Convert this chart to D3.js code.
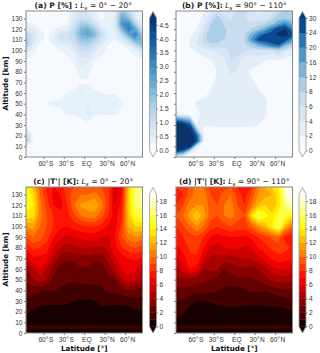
<!DOCTYPE html>
<html>
<head>
<meta charset="utf-8">
<script src="https://cdn.jsdelivr.net/npm/d3@7"></script>
<style>
  html, body { margin: 0; padding: 0; background: #fff; }
  svg { display: block; font-family: "DejaVu Sans", sans-serif; }
  .tick text { fill: #333; font-size: 6.6px; }
  .tick line { stroke: #777; }
  .domain { display: none; }
  .title { font-size: 7.6px; fill: #222; }
  .axis-label { font-size: 7.2px; font-weight: bold; fill: #111; }
</style>
</head>
<body>
<div id="chart"></div>
<script>
// Grid the fields were read on
const lats = [-85, -75, -65, -55, -45, -35, -25, -15, -5, 5, 15, 25, 35, 45, 55, 65, 75, 85];
const altsP = [0, 5, 10, 15, 20, 30, 40, 50, 60, 70, 80, 90, 100, 105, 110, 115, 120, 125, 130, 137];
const altsT = [0, 3, 4, 6.5, 7.5, 15, 20, 25, 30, 40, 50, 60, 70, 80, 90, 100, 110, 120, 130, 137];

// (a) P [%], Ls 0-20, rows bottom to top
const pA = [
  [.1, .1, .1, .1, .1, .1, .1, .1, .1, .1, .1, .1, .1, .1, .1, .1, .1, .1],
  [.1, .1, .1, .1, .1, .1, .1, .1, .1, .1, .1, .1, .1, .1, .1, .1, .1, .1],
  [.3, .1, .1, .1, .1, .1, .1, .1, .1, .1, .1, .1, .1, .1, .1, .1, .1, .1],
  [1.4, .2, .1, .1, .1, .1, .1, .1, .1, .1, .1, .1, .1, .1, .1, .1, .1, .1],
  [1.3, .2, .1, .1, .1, .1, .1, .1, .1, .1, .1, .1, .1, .1, .1, .1, .1, .1],
  [.15, .1, .1, .1, .1, .1, .1, .1, .15, .15, .1, .1, .1, .1, .1, .1, .1, .1],
  [.1, .1, .1, .15, .2, .22, .26, .27, .3, .55, .27, .26, .26, .26, .2, .15, .1, .1],
  [.1, .1, .15, .26, .27, .27, .27, .27, .35, .55, .3, .3, .4, .55, .27, .15, .1, .1],
  [.1, .1, .1, .15, .2, .22, .26, .27, .55, .35, .27, .26, .22, .22, .18, .1, .1, .1],
  [.1, .1, .1, .1, .1, .15, .18, .2, .22, .22, .2, .18, .15, .1, .1, .1, .1, .1],
  [.1, .1, .1, .1, .1, .1, .1, .15, .35, .3, .15, .1, .1, .1, .1, .1, .1, .1],
  [.1, .1, .1, .1, .1, .1, .15, .3, .65, .55, .25, .15, .1, .1, .1, .1, .1, .1],
  [.8, .3, .15, .1, .15, .25, .35, .55, .95, 1.05, .65, .35, .2, .15, .15, .2, .45, .8],
  [1.5, .5, .2, .15, .25, .45, .55, .85, 1.35, 1.45, .95, .55, .25, .2, .25, .55, 1.25, 2.1],
  [1.75, .75, .3, .2, .4, .85, .85, 1.15, 1.85, 1.95, 1.55, .9, .3, .25, .6, 1.35, 2.5, 2.1],
  [1.3, .8, .35, .2, .4, .95, .85, 1.25, 2.25, 2.55, 2.15, 1.1, .35, .35, 1.2, 2.5, 3.25, 1.7],
  [.7, .5, .25, .15, .2, .4, .4, 1.1, 2.15, 2.35, 1.7, .8, .35, .5, 2.1, 3.35, 2.5, .9],
  [.35, .25, .15, .1, .1, .15, .2, .9, 1.6, 1.6, .9, .4, .35, .55, 2.9, 3.1, 1.5, .4],
  [.15, .1, .1, .1, .1, .1, .15, .7, 1.1, 1, .5, .2, .35, .55, 2.5, 2.1, .7, .25],
  [.1, .1, .1, .1, .1, .1, .15, .5, .8, .7, .3, .15, .35, .45, 1.9, 1.3, .4, .15]
];

// (b) P [%], Ls 90-110
const pB = [
  [1, .5, .2, .2, .2, .2, .2, .2, .2, .2, .2, .2, .2, .2, .2, .2, .2, .2],
  [26, 20, 4, .3, .2, .2, .2, .2, .2, .2, .2, .2, .2, .2, .2, .2, .2, .2],
  [40, 38, 31, 4, .3, .2, .2, .2, .2, .2, .2, .2, .2, .2, .2, .2, .2, .2],
  [42, 40, 38, 26, 2, .4, .3, .3, .3, .3, .3, .3, .3, .2, .2, .2, .2, .2],
  [42, 40, 38, 24, 1.5, .5, .5, .5, .5, .5, .5, .5, .5, .3, .2, .2, .2, .2],
  [38, 33, 26, 2, 2.1, 2.2, 2.3, 2.4, 2.4, 2.4, 2.3, 2.2, 2, 1.5, .5, .3, .2, .2],
  [3, 1.5, 1, 1.6, 2.4, 2.5, 2.6, 2.6, 2.6, 2.6, 2.6, 2.5, 2.4, 2.2, 1, .5, .3, .2],
  [1, 1, 1.5, 2.2, 2.5, 2.6, 2.6, 2.7, 2.8, 2.8, 2.7, 2.6, 2.5, 2.3, 1.5, .8, .4, .2],
  [.5, .5, .8, 1.2, 1.6, 2.1, 2.4, 2.5, 2.6, 2.6, 2.5, 2.4, 2.2, 1.8, 1, .5, .3, .2],
  [.3, .3, .5, .8, 1.2, 1.8, 2.2, 2.4, 2.5, 2.5, 2.4, 2.2, 1.8, 1.2, .6, .3, .2, .1],
  [.3, .3, .5, .7, 1, 1.5, 2, 2.5, 4.5, 3.5, 2.2, 1.8, 1.4, 1, .6, .3, .2, .1],
  [.3, .4, .6, .9, 1.2, 1.8, 2.5, 3.6, 6, 5, 2.8, 2.6, 2.4, 2, 1.6, 1.2, 1, .8],
  [.5, .8, 1.5, 2.2, 3, 4, 4.4, 5, 6.5, 7, 6, 5.5, 6, 5.5, 5, 8, 4.5, 3],
  [.8, 1, 2.2, 4, 6, 7, 7, 7, 7, 7, 7.5, 9.5, 14, 18, 22, 24, 14, 9],
  [.8, 1, 2, 3.5, 7, 9.5, 10, 8, 7, 7, 8, 17, 26, 27, 28, 24, 26, 18],
  [.5, .8, 1.5, 3, 6, 10, 11, 8.5, 7, 7, 7.5, 14, 20, 25, 26, 32, 34, 26],
  [.3, .5, 1, 2, 4.5, 9, 11, 8.5, 7, 7, 7, 8, 11, 15, 22, 28, 30, 20],
  [.2, .4, .6, 1.5, 3.5, 7.5, 11, 7.5, 6.5, 7.5, 6.5, 6.5, 7, 8, 11, 16, 20, 14],
  [.2, .3, .5, 1, 2.5, 6, 9.5, 6.5, 5.5, 7.5, 6, 5, 5, 5, 7, 10, 11, 9],
  [.2, .3, .4, .8, 1.8, 3.5, 6, 5, 5, 6.5, 7, 4, 3, 4, 5, 7, 8, 8]
];

// (c) |T'| [K], Ls 0-20
const tC = [
  [.4, .4, .4, .4, .4, .4, .4, .4, .4, .4, .4, .4, .4, .4, .4, .4, .4, .4],
  [.4, .4, .4, .4, .4, .4, .4, .4, .4, .4, .4, .4, .4, .4, .4, .4, .4, .4],
  [1.4, 1.3, 1.4, 1.3, 1.3, 1.4, 1.3, 1.3, 1.4, 1.4, 1.3, 1.4, 1.3, 1.3, 1.4, 1.3, 1.4, 1.3],
  [1.4, 1.4, 1.3, 1.3, 1.4, 1.3, 1.3, 1.4, 1.4, 1.3, 1.4, 1.3, 1.3, 1.4, 1.3, 1.4, 1.3, 1.4],
  [.4, .4, .4, .4, .4, .4, .4, .4, .4, .4, .4, .4, .4, .4, .4, .4, .4, .4],
  [.8, .6, .4, .4, .4, .4, .4, .4, .4, .4, .4, .4, .4, .4, .4, .4, .5, .6],
  [1.1, .95, .7, .6, .6, .6, .6, .5, .5, .5, .5, .6, .6, .6, .6, .6, .8, .9],
  [1.4, 1.3, 1, .9, .9, .9, .9, .8, .7, .7, .8, .95, 1, .9, .9, 1, 1.2, 1.2],
  [1.7, 1.6, 1.4, 1.3, 1.3, 1.3, 1.2, 1, .9, .9, 1, 1.2, 1.3, 1.3, 1.4, 1.5, 1.6, 1.6],
  [2.4, 2.4, 2.1, 2, 2.1, 1.9, 1.8, 1.7, 1.6, 1.6, 1.8, 1.9, 2.1, 2.2, 2.6, 3, 2.9, 2.6],
  [3.3, 3.9, 4.6, 4, 2.6, 2.2, 2.1, 2.1, 2.3, 2.3, 2.2, 2.1, 2.5, 3, 4.8, 5.6, 5.2, 4],
  [3.8, 5, 6, 5, 3.5, 2.5, 2.3, 2.3, 2.9, 2.9, 2.4, 2.4, 3.5, 4.6, 6, 6.6, 6.2, 5],
  [5.7, 6.8, 6.7, 6.5, 4.8, 3.6, 3.2, 3.4, 3.5, 3.5, 3.3, 3.3, 4.3, 5.8, 6.5, 7, 7.2, 6.8],
  [7.3, 8.3, 8, 7.5, 6, 5, 4.5, 4.7, 5, 5.2, 5, 4.8, 5.5, 6.6, 8, 8.6, 9, 8.5],
  [9, 10, 9.5, 8.5, 7, 6.2, 5.7, 6, 6.2, 6.5, 6.4, 6, 5.9, 7, 9, 10.5, 11, 10.5],
  [11, 11.5, 10, 9, 8, 7.2, 7, 7.4, 7.7, 8, 8, 7.6, 6.8, 6.5, 8.5, 12, 13, 13],
  [13.5, 13.5, 10.5, 9, 8, 7.5, 7.7, 8.7, 10, 10.5, 10.5, 9.5, 8, 6.5, 8, 12.5, 15, 15.5],
  [15, 14, 10.5, 8.5, 7, 6.5, 8, 10, 11.2, 11.5, 12, 10.5, 8.5, 6, 7.5, 13, 16, 17],
  [15, 13.5, 10, 8, 6.8, 7, 8.5, 9.5, 10, 10, 10.5, 9.5, 8.5, 5.5, 7, 13, 16.5, 17.5],
  [14, 12.5, 9.5, 8, 7, 7.5, 8.5, 9, 9, 9, 9, 9, 8.5, 5.5, 7, 12.5, 16, 17]
];

// (d) |T'| [K], Ls 90-110
const tD = [
  [.4, .4, .4, .4, .4, .4, .4, .4, .4, .4, .4, .4, .4, .4, .4, .4, .4, .4],
  [.4, .4, .4, .4, .4, .4, .4, .4, .4, .4, .4, .4, .4, .4, .4, .4, .4, .4],
  [1.4, 1.3, 1.4, 1.3, 1.3, 1.4, 1.3, 1.3, 1.4, 1.4, 1.3, 1.4, 1.3, 1.3, 1.4, 1.3, 1.4, 1.3],
  [1.4, 1.4, 1.3, 1.3, 1.4, 1.3, 1.3, 1.4, 1.4, 1.3, 1.4, 1.3, 1.3, 1.4, 1.3, 1.4, 1.3, 1.4],
  [.4, .4, .4, .4, .4, .4, .4, .4, .4, .4, .4, .4, .4, .4, .4, .4, .4, .4],
  [1.05, .95, .4, .4, .4, .4, .4, .4, .4, .4, .4, .4, .4, .4, .4, .4, .5, .6],
  [1.2, 1.1, .7, .5, .5, .5, .6, .6, .6, .6, .6, .6, .6, .6, .7, .7, .8, .9],
  [1.6, 1.4, .9, .8, .8, .85, .95, 1, 1, 1, 1, .95, .95, 1, 1, 1.05, 1.2, 1.2],
  [2, 1.8, 1.4, .95, 1, 1.05, 1.2, 1.2, 1.2, 1.2, 1.2, 1.3, 1.3, 1.3, 1.3, 1.4, 1.6, 1.9],
  [2.7, 2.6, 2.5, 2.4, 2.4, 2.3, 2.1, 1.7, 1.6, 1.6, 1.9, 2.1, 2.1, 2.1, 2.3, 2.7, 2.8, 2.9],
  [3.7, 3.8, 3.8, 3.5, 3.2, 3, 2.7, 2.6, 2.6, 2.8, 2.8, 2.9, 3.1, 3.6, 4.2, 4.4, 4.4, 4.2],
  [4.8, 5.6, 7, 6.6, 4, 4.3, 4.3, 3, 3.4, 3.8, 3.8, 3.6, 4, 4.6, 5.6, 6, 6, 5.6],
  [5.8, 6.6, 7.8, 7.8, 6, 4.8, 4.7, 4.6, 4.6, 4.9, 5, 5, 5.7, 6.4, 7.2, 7.6, 7.4, 7],
  [6.7, 7.4, 8.2, 8.4, 7, 5.8, 5.5, 6, 6.2, 6.2, 5.8, 6, 7, 7.6, 8.2, 8.6, 8.4, 7.8],
  [7.5, 8, 8.5, 8.8, 8, 7, 6.6, 6.8, 7, 7, 6.8, 7.2, 8, 8.5, 9.2, 9.6, 7.5, 7],
  [8, 8.8, 10, 11, 10, 8.5, 8, 8.5, 9, 8.5, 8.5, 9.5, 11, 12, 14, 16.5, 12, 10],
  [9, 10, 11.5, 13, 11.5, 9.5, 9, 10, 10.5, 9.5, 9, 13, 16, 14.5, 13.5, 15, 15, 14],
  [8, 9, 10.5, 11, 11, 9.5, 9, 10, 10.5, 9, 8, 10, 12, 13, 12, 13.5, 16.5, 18],
  [7.5, 8, 9.5, 10.5, 10.5, 9, 8.5, 9.5, 10, 8.5, 7.5, 9, 11, 11.5, 12, 13.5, 18, 19],
  [8, 8, 9.5, 10.5, 10, 8.5, 8, 8.5, 9, 8, 7, 8, 10.5, 12, 13, 14, 18, 19]
];

// Contour levels and tick labels
const levelsPa = d3.range(0, 20).map(d => d * 0.25);
const levelsPb = [0, 2, 4, 6, 8, 12, 16, 20, 24, 30];
const levelsT = d3.range(0, 20);
const ticksPa = [0, 0.5, 1, 1.5, 2, 2.5, 3, 3.5, 4, 4.5];
const ticksPb = [0, 2, 4, 6, 8, 12, 16, 20, 24, 30];
const ticksT = [0, 2, 4, 6, 8, 10, 12, 14, 16, 18];
const altTicks = d3.range(0, 131, 10);
const latTicks = [-60, -30, 0, 30, 60];
const latLabels = ["60°\u200aS", "30°\u200aS", "EQ", "30°\u200aN", "60°\u200aN"];

// Colormaps
const blues = d3.piecewise(d3.interpolateRgb, ["#f7fbff", "#deebf7", "#c6dbef", "#9ecae1", "#6baed6", "#4292c6", "#2171b5", "#08519c", "#08306b"]);
const hot = d3.scaleLinear()
    .domain([0, 0.365, 0.746, 1])
    .range(["#0b0000", "#ff0000", "#ffff00", "#ffffff"]);

const svg = d3.select("#chart")
    .append("svg")
    .attr("width", 320)
    .attr("height", 353);

const defs = svg.append("defs");
defs.append("filter")
    .attr("id", "soft")
    .attr("x", "-5%").attr("y", "-5%").attr("width", "110%").attr("height", "110%")
    .append("feGaussianBlur")
    .attr("stdDeviation", 0.5);

const panels = [
  { id: "a", name: "P [%] : ", period: " = 0° − 20°", field: pA, alts: altsP, levels: levelsPa, cmap: blues, ticks: ticksPa, fmt: d3.format(".1f"), left: 26, top: 11, lowest: "#f6faff", under: "#f7fbff", over: "#08306b", showAlt: true, showLat: false },
  { id: "b", name: "P [%]: ", period: " = 90° − 110°", field: pB, alts: altsP, levels: levelsPb, cmap: blues, ticks: ticksPb, fmt: d3.format("d"), left: 176, top: 11, lowest: "#f6faff", under: "#f7fbff", over: "#08306b", showAlt: false, showLat: false },
  { id: "c", name: "|T'| [K]: ", period: " = 0° − 20°", field: tC, alts: altsT, levels: levelsT, cmap: hot, ticks: ticksT, fmt: d3.format("d"), left: 26, top: 187, lowest: "#170000", under: "#0b0000", over: "#ffffff", showAlt: true, showLat: true },
  { id: "d", name: "|T'| [K]: ", period: " = 90° − 110°", field: tD, alts: altsT, levels: levelsT, cmap: hot, ticks: ticksT, fmt: d3.format("d"), left: 176, top: 187, lowest: "#170000", under: "#0b0000", over: "#ffffff", showAlt: false, showLat: true }
];

const panelWidth = 116.5;
const panelHeight = 146;

panels.forEach(drawPanel);

function drawPanel(p) {
    const g = svg.append("g").attr("transform", `translate(${p.left},${p.top})`);

    const xScale = d3.scaleLinear().domain([-85.5, 85.5]).range([0, panelWidth]);
    const yScale = d3.scaleLinear().domain([0, 137]).range([panelHeight, 0]);

    // contour grid coordinates: sample i sits at i + 0.5
    const gridLat = d3.scaleLinear().domain(lats.map((d, i) => i + 0.5)).range(lats).clamp(true);
    const gridAlt = d3.scaleLinear().domain(p.alts.map((d, i) => i + 0.5)).range(p.alts).clamp(true);
    const path = d3.geoPath(d3.geoTransform({
        point(x, y) {
            const lat = x <= 0.5 ? -85.5 : x >= lats.length - 0.5 ? 85.5 : gridLat(x);
            this.stream.point(xScale(lat), yScale(gridAlt(y)));
        }
    }));

    const maxLevel = p.levels[p.levels.length - 1];
    const bandColor = i => i === 0 ? p.lowest : p.cmap((p.levels[i] + p.levels[i + 1]) / 2 / maxLevel);

    const contours = d3.contours()
        .size([lats.length, p.alts.length])
        .thresholds(p.levels.slice(1))(p.field.flat());

    defs.append("clipPath").attr("id", "clip-" + p.id)
        .append("rect").attr("width", panelWidth).attr("height", panelHeight);

    const inner = g.append("g")
        .attr("clip-path", `url(#clip-${p.id})`)
        .append("g")
        .attr("filter", "url(#soft)");

    inner.append("rect")
        .attr("x", -3).attr("y", -3)
        .attr("width", panelWidth + 6).attr("height", panelHeight + 6)
        .attr("fill", bandColor(0));

    inner.selectAll("path")
        .data(contours)
        .join("path")
        .attr("d", path)
        .attr("fill", (d, i) => i + 1 < p.levels.length - 1 ? bandColor(i + 1) : p.over);

    // Axes
    const yAxis = d3.axisLeft(yScale).tickValues(altTicks).tickSize(2).tickPadding(1.5);
    if (!p.showAlt) yAxis.tickFormat("");
    g.append("g").call(yAxis);

    const xAxis = d3.axisBottom(xScale).tickValues(latTicks).tickSize(2).tickPadding(2.5)
        .tickFormat((d, i) => latLabels[i]);
    const xg = g.append("g").attr("transform", `translate(0,${panelHeight})`).call(xAxis);
    xg.selectAll("text").attr("dx", 2);

    g.append("rect")
        .attr("width", panelWidth).attr("height", panelHeight)
        .attr("fill", "none").attr("stroke", "#888").attr("stroke-width", 1);

    // Title
    const title = g.append("text")
        .attr("class", "title")
        .attr("x", panelWidth / 2 - (p.id === "b" || p.id === "d" ? 0 : 1))
        .attr("y", -3)
        .attr("text-anchor", "middle");
    title.append("tspan").attr("font-weight", "bold").text(`(${p.id}) ${p.name}`);
    title.append("tspan").attr("font-style", "italic").text("L");
    title.append("tspan").attr("font-size", 5.5).attr("dy", 1.5).attr("font-style", "italic").text("s");
    title.append("tspan").attr("dy", -1.5).text(p.period);

    if (p.showAlt) {
        g.append("text")
            .attr("class", "axis-label")
            .attr("transform", "rotate(-90)")
            .attr("x", -panelHeight / 2 + 0.5)
            .attr("y", -18)
            .attr("text-anchor", "middle")
            .text("Altitude [km]");
    }
    if (p.showLat) {
        g.append("text")
            .attr("class", "axis-label")
            .attr("x", panelWidth / 2)
            .attr("y", panelHeight + 17.5)
            .attr("text-anchor", "middle")
            .text("Latitude [°]");
    }

    drawColorbar(p, g, bandColor);
}

function drawColorbar(p, g, bandColor) {
    const barX = p.left === 26 ? 123.5 : 123;
    const barW = 7;
    const barTop = 7;
    const barBottom = panelHeight - 6.5;
    const tip = 6.5;
    const n = p.levels.length - 1;

    // bands are evenly spaced whatever the level values are
    const cbScale = d3.scaleLinear()
        .domain(p.levels)
        .range(p.levels.map((d, i) => barBottom + (barTop - barBottom) * i / n));

    const bar = g.append("g").attr("transform", `translate(${barX},0)`);

    bar.selectAll("rect")
        .data(d3.range(n))
        .join("rect")
        .attr("x", 0)
        .attr("width", barW)
        .attr("y", i => cbScale(p.levels[i + 1]))
        .attr("height", i => cbScale(p.levels[i]) - cbScale(p.levels[i + 1]) + 0.3)
        .attr("fill", bandColor);

    bar.append("path")
        .attr("d", `M0,${barTop}L${barW / 2},${barTop - tip}L${barW},${barTop}Z`)
        .attr("fill", p.over);
    bar.append("path")
        .attr("d", `M0,${barBottom}L${barW / 2},${barBottom + tip}L${barW},${barBottom}Z`)
        .attr("fill", p.under);

    bar.append("path")
        .attr("d", `M0,${barTop}L${barW / 2},${barTop - tip}L${barW},${barTop}V${barBottom}L${barW / 2},${barBottom + tip}L0,${barBottom}Z`)
        .attr("fill", "none")
        .attr("stroke", "#999")
        .attr("stroke-width", 0.8);

    bar.append("g")
        .attr("transform", `translate(${barW},0)`)
        .call(d3.axisRight(cbScale).tickValues(p.ticks).tickSize(1.5).tickPadding(1.5).tickFormat(p.fmt));
}
</script>
</body>
</html>
